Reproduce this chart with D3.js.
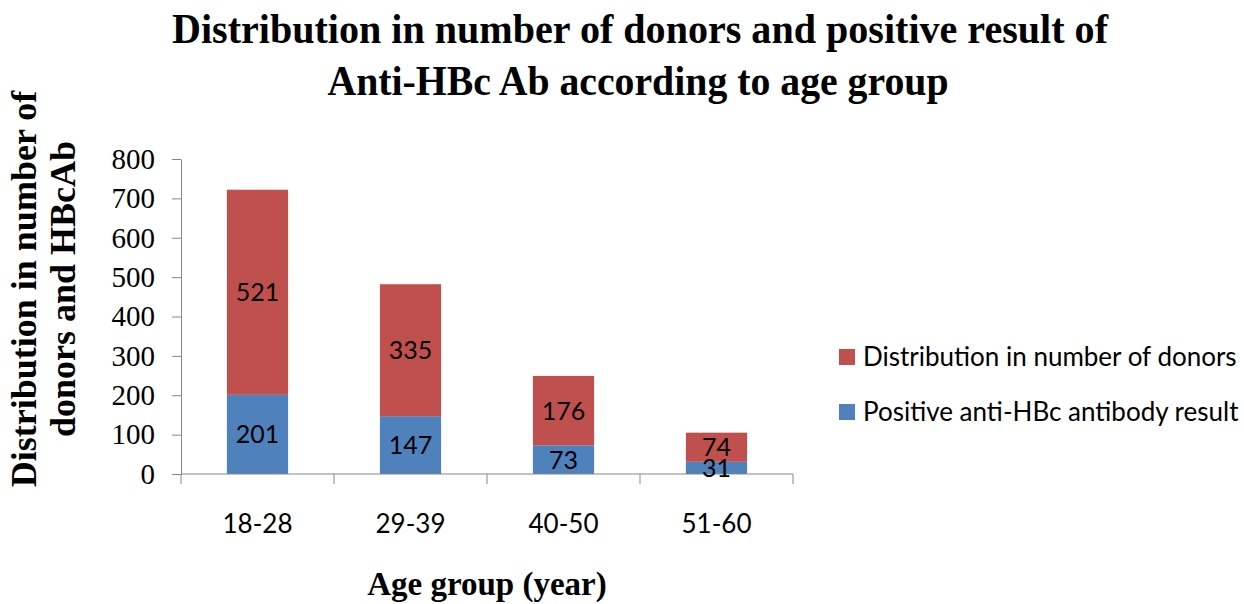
<!DOCTYPE html>
<html>
<head>
<meta charset="utf-8">
<script src="https://cdn.jsdelivr.net/npm/d3@7"></script>
<style>
  body { margin: 0; background: #fff; }
  svg { display: block; }
</style>
</head>
<body>
<div id="chart"></div>
<script>
const ageGroups = ['18-28', '29-39', '40-50', '51-60'];
const positiveResult = [201, 147, 73, 31];
const donorCount = [521, 335, 176, 74];
const yTicks = [0, 100, 200, 300, 400, 500, 600, 700, 800];
const seriesNames = ['Distribution in number of donors', 'Positive anti-HBc antibody result'];

const width = 1244;
const height = 604;
const plot = { left: 181, right: 793, top: 159, bottom: 474 };
const red = '#C0504D';
const blue = '#4F81BD';
const axisGrey = '#868686';
const sans = 'Lato, sans-serif';
const serif = '"Liberation Serif", "Times New Roman", serif';

const svg = d3.select('#chart')
    .append('svg')
    .attr('width', width)
    .attr('height', height);

const xScale = d3.scaleBand()
    .domain(ageGroups)
    .range([plot.left, plot.right])
    .paddingInner(0.6)
    .paddingOuter(0.3);

const yScale = d3.scaleLinear()
    .domain([0, 800])
    .range([plot.bottom, plot.top]);

// stacked rows: blue at bottom, red on top
const rows = ageGroups.map((g, i) => ({ group: g, positive: positiveResult[i], donors: donorCount[i] }));
const stacked = d3.stack().keys(['positive', 'donors'])(rows);
const colors = { positive: blue, donors: red };

svg.append('g')
    .selectAll('g')
    .data(stacked)
    .join('g')
    .attr('fill', d => colors[d.key])
    .selectAll('rect')
    .data(d => d)
    .join('rect')
    .attr('x', d => xScale(d.data.group))
    .attr('width', xScale.bandwidth())
    .attr('y', d => yScale(d[1]))
    .attr('height', d => yScale(d[0]) - yScale(d[1]));

// y axis
const yAxis = svg.append('g')
    .attr('transform', `translate(${plot.left},0)`)
    .call(d3.axisLeft(yScale).tickValues(yTicks).tickSize(9).tickPadding(17).tickSizeOuter(0));
yAxis.select('.domain').attr('stroke', axisGrey);
yAxis.selectAll('.tick line').attr('stroke', axisGrey);
yAxis.selectAll('.tick text')
    .attr('font-family', serif)
    .attr('font-size', 29)
    .attr('fill', '#000');

// x axis: line plus ticks on category boundaries
const step = xScale.step();
const x0 = plot.left;
const boundaries = d3.range(ageGroups.length + 1).map(i => x0 + i * step);
svg.append('line')
    .attr('x1', plot.left).attr('x2', plot.right)
    .attr('y1', plot.bottom).attr('y2', plot.bottom)
    .attr('stroke', axisGrey);
svg.append('g')
    .selectAll('line')
    .data(boundaries)
    .join('line')
    .attr('x1', d => d).attr('x2', d => d)
    .attr('y1', plot.bottom).attr('y2', plot.bottom + 10)
    .attr('stroke', axisGrey);
svg.append('g')
    .selectAll('text')
    .data(ageGroups)
    .join('text')
    .attr('x', d => xScale(d) + xScale.bandwidth() / 2)
    .attr('y', 533)
    .attr('text-anchor', 'middle')
    .attr('font-family', sans)
    .attr('font-size', 26)
    .attr('fill', '#000')
    .text(d => d);

// value labels inside segments
svg.append('g')
    .selectAll('g')
    .data(stacked)
    .join('g')
    .selectAll('text')
    .data(d => d.map(s => ({ s, key: d.key })))
    .join('text')
    .attr('x', d => xScale(d.s.data.group) + xScale.bandwidth() / 2)
    .attr('y', d => (yScale(d.s[0]) + yScale(d.s[1])) / 2)
    .attr('dy', '0.36em')
    .attr('text-anchor', 'middle')
    .attr('font-family', sans)
    .attr('font-size', 25)
    .attr('fill', '#000')
    .text(d => d.s.data[d.key]);

// title
const title = svg.append('g')
    .attr('font-family', serif)
    .attr('font-weight', 'bold')
    .attr('font-size', 42)
    .attr('text-anchor', 'middle');
title.append('text')
    .attr('x', 640).attr('y', 43)
    .attr('textLength', 936).attr('lengthAdjust', 'spacingAndGlyphs')
    .text('Distribution in number of donors and positive result of');
title.append('text')
    .attr('x', 638).attr('y', 95)
    .attr('textLength', 621).attr('lengthAdjust', 'spacingAndGlyphs')
    .text('Anti-HBc Ab according to age group');

// y axis title
const yTitle = svg.append('g')
    .attr('font-family', serif)
    .attr('font-weight', 'bold')
    .attr('font-size', 36)
    .attr('text-anchor', 'middle');
yTitle.append('text')
    .attr('transform', 'translate(36,289) rotate(-90)')
    .text('Distribution in number of');
yTitle.append('text')
    .attr('transform', 'translate(75,289) rotate(-90)')
    .text('donors and HBcAb');

// x axis title
svg.append('text')
    .attr('x', (plot.left + plot.right) / 2)
    .attr('y', 595)
    .attr('text-anchor', 'middle')
    .attr('font-family', serif)
    .attr('font-weight', 'bold')
    .attr('font-size', 33)
    .text('Age group (year)');

// legend
const legendColors = [red, blue];
const legendY = [357, 412];
const legend = svg.append('g')
    .selectAll('g')
    .data(seriesNames)
    .join('g')
    .attr('transform', (d, i) => `translate(839,${legendY[i]})`);
legend.append('rect')
    .attr('x', 0).attr('y', -8)
    .attr('width', 16).attr('height', 16)
    .attr('fill', (d, i) => legendColors[i]);
legend.append('text')
    .attr('x', 24)
    .attr('dy', '0.36em')
    .attr('font-family', sans)
    .attr('font-size', 26)
    .attr('fill', '#000')
    .text(d => d);
</script>
</body>
</html>
